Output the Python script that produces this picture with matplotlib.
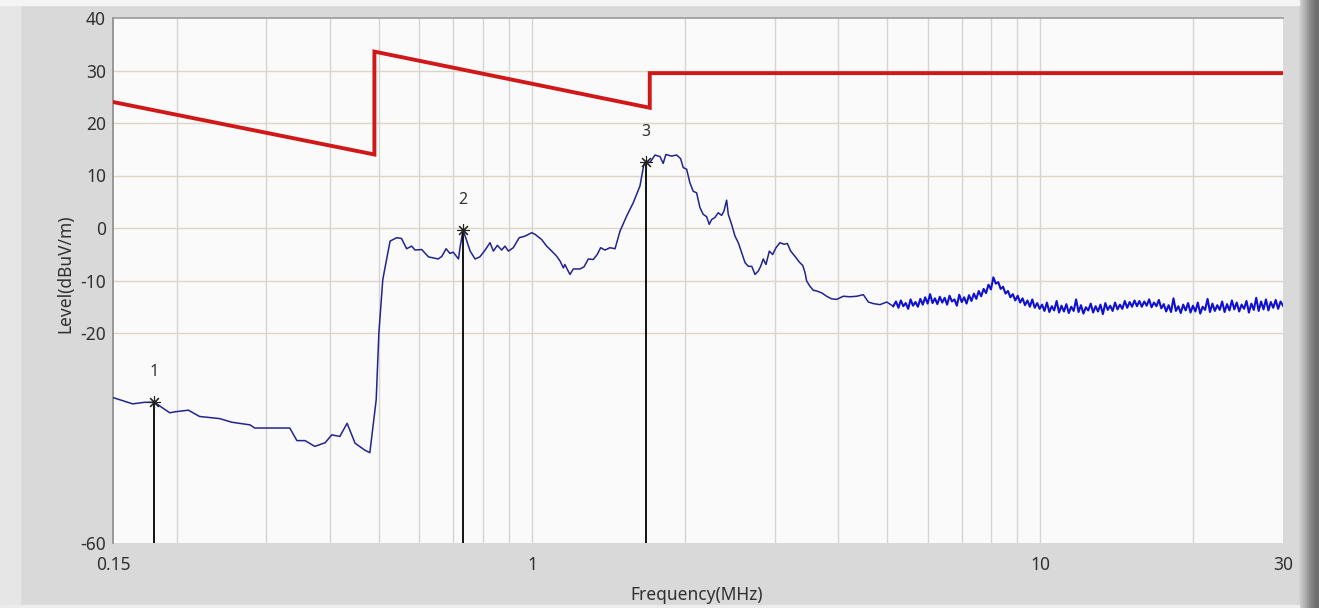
import numpy as np
import matplotlib
matplotlib.use("Agg")
import matplotlib.pyplot as plt
from matplotlib.patches import Rectangle

plt.rcParams['font.family'] = ['Noto Sans', 'DejaVu Sans']

# ---------------- data ----------------
limit_freq = [0.15, 0.49, 0.49, 1.705, 1.705, 30.0]
limit_level = [24.0, 14.0, 33.6, 22.9, 29.5, 29.5]

trace_freq = [0.150, 0.164, 0.173, 0.181, 0.186, 0.194, 0.199, 0.211, 0.222, 0.243,
              0.257, 0.279, 0.285, 0.334, 0.345, 0.358, 0.374, 0.392, 0.404, 0.419,
              0.433, 0.449, 0.469, 0.480, 0.494, 0.500, 0.509, 0.526, 0.542, 0.554,
              0.567, 0.580, 0.589, 0.607, 0.626, 0.654, 0.665, 0.678, 0.690, 0.700,
              0.717, 0.722, 0.732, 0.739, 0.756, 0.773, 0.790, 0.809, 0.827, 0.840,
              0.855, 0.872, 0.885, 0.899, 0.919, 0.944, 0.969, 0.999, 1.014, 1.045,
              1.069, 1.094, 1.119, 1.136, 1.153, 1.161, 1.174, 1.188, 1.206, 1.243,
              1.266, 1.291, 1.320, 1.344, 1.365, 1.392, 1.424, 1.457, 1.490, 1.536,
              1.582, 1.631, 1.660, 1.675, 1.707, 1.746, 1.786, 1.812, 1.834, 1.882,
              1.926, 1.961, 1.984, 2.015, 2.045, 2.076, 2.108, 2.140, 2.172, 2.206,
              2.232, 2.256, 2.290, 2.325, 2.361, 2.385, 2.415, 2.433, 2.470, 2.508,
              2.546, 2.585, 2.625, 2.664, 2.706, 2.746, 2.787, 2.817, 2.851, 2.886,
              2.930, 2.975, 3.020, 3.075, 3.132, 3.179, 3.228, 3.291, 3.357, 3.409,
              3.444, 3.470, 3.522, 3.575, 3.631, 3.714, 3.798, 3.886, 3.975, 4.096,
              4.222, 4.352, 4.485, 4.588, 4.693, 4.837, 4.986, 5.136]
trace_level = [-32.3, -33.5, -33.2, -33.2, -34.0, -35.2, -35.0, -34.7, -35.9, -36.3,
               -37.0, -37.5, -38.1, -38.1, -40.5, -40.5, -41.6, -40.9, -39.4, -39.7,
               -37.2, -41.0, -42.3, -42.8, -32.7, -20.0, -9.8, -2.5, -1.85, -2.0,
               -3.95, -3.45, -4.2, -4.1, -5.5, -5.9, -5.4, -3.95, -4.85, -4.6,
               -5.9, -3.75, -0.4, -1.55, -4.4, -5.9, -5.5, -4.2, -2.8, -4.4,
               -3.3, -4.2, -3.45, -4.4, -3.75, -1.85, -1.55, -0.9, -1.2, -2.2,
               -3.45, -4.4, -5.4, -6.3, -7.6, -6.95, -7.9, -8.85, -7.8, -7.8,
               -7.4, -5.9, -6.0, -5.05, -3.75, -4.2, -3.75, -3.95, -0.6, 2.3,
               4.8, 8.0, 12.1, 12.6, 12.5, 13.9, 13.6, 12.3, 14.0, 13.7,
               13.9, 13.2, 11.5, 11.2, 8.6, 7.0, 6.7, 3.9, 2.6, 2.15,
               0.7, 1.6, 2.0, 2.9, 2.4, 3.2, 5.3, 2.6, 0.7, -1.55,
               -2.8, -4.7, -6.6, -7.3, -7.3, -8.85, -8.2, -7.3, -5.9, -6.95,
               -4.4, -5.05, -3.75, -2.8, -3.1, -2.95, -4.4, -5.4, -6.5, -7.15,
               -8.5, -10.1, -11.1, -11.85, -12.0, -12.35, -13.0, -13.5, -13.6, -13.0,
               -13.1, -13.0, -12.7, -14.1, -14.4, -14.6, -14.1, -14.9]

# dense sweep segment (5.2 - 30 MHz), levels
tail_start, tail_stop = 5.2, 30.0
tail_level = [-14.0, -15.2, -13.8, -14.9, -14.3, -15.4, -13.6, -14.8, -14.1, -15.0,
              -13.5, -14.6, -13.2, -14.4, -12.6, -14.3, -13.4, -14.5, -13.1, -14.2,
              -13.3, -14.6, -12.9, -14.0, -13.6, -14.8, -12.7, -14.1, -13.2, -14.4,
              -12.8, -13.9, -12.5, -13.5, -12.0, -13.0, -11.6, -12.4, -10.8, -11.7,
              -9.4, -10.6, -10.3, -11.6, -11.2, -12.5, -12.0, -13.2, -12.6, -13.8,
              -12.9, -14.2, -13.4, -14.7, -13.8, -15.0, -13.6, -15.2, -14.3, -15.4,
              -14.6, -15.8, -14.2, -16.0, -14.9, -15.7, -13.9, -16.1, -14.8, -15.9,
              -14.5, -16.2, -15.0, -15.8, -13.6, -16.0, -14.7, -16.3, -15.1, -15.7,
              -14.4, -16.1, -14.9, -15.9, -14.6, -16.4, -14.3, -15.6, -14.8, -15.8,
              -14.2, -15.5, -14.6, -15.4, -13.9, -15.2, -14.1, -15.0, -13.8, -14.9,
              -13.9, -15.0, -14.0, -14.8, -13.6, -15.1, -14.2, -14.9, -13.7, -15.3,
              -14.5, -15.9, -14.7, -16.0, -13.4, -15.8, -14.9, -16.2, -14.6, -15.7,
              -14.3, -16.1, -14.8, -15.9, -14.2, -16.3, -15.0, -15.6, -13.5, -16.0,
              -14.4, -15.8, -14.7, -15.6, -14.0, -16.0, -14.5, -15.7, -13.8, -15.5,
              -14.2, -15.9, -14.6, -15.4, -13.9, -16.1, -14.4, -15.6, -13.3, -15.8,
              -14.0, -15.5, -13.6, -15.7, -14.1, -15.2, -13.7, -15.4, -14.0, -14.8]

marker_ids = ["1", "2", "3"]
marker_freq = [0.181, 0.732, 1.675]
marker_level = [-33.2, -0.4, 12.6]

x_ticks = [0.15, 1, 10, 30]
x_ticklabels = ["0.15", "1", "10", "30"]
y_ticks = [-60, -20, -10, 0, 10, 20, 30, 40]
y_ticklabels = ["-60", "-20", "-10", "0", "10", "20", "30", "40"]
x_minor_grid = [0.2, 0.3, 0.4, 0.5, 0.6, 0.7, 0.8, 0.9, 1, 2, 3, 4, 5, 6, 7, 8, 9, 10, 20]

# ---------------- figure ----------------
W, H = 1319, 608
fig = plt.figure(figsize=(W / 100, H / 100), dpi=100)
fig.patch.set_facecolor('#d9d9d9')

# frame decoration (right dark bevel, light left strip, top highlight)
bevel = ['#d0d0d0', '#c4c4c4', '#b8b8b8', '#aaaaaa', '#9c9c9c', '#8e8e8e',
         '#828282', '#787878', '#707070', '#6c6c6c']
for k, c in enumerate(bevel):
    fig.patches.append(Rectangle(((1299 + 2 * k) / W, 0), 2 / W, 1,
                                 transform=fig.transFigure, color=c, zorder=0))
fig.patches.append(Rectangle((0, 0), 20 / W, 1, transform=fig.transFigure,
                             color='#e6e6e6', zorder=0))
fig.patches.append(Rectangle((0, 1 - 5 / H), 1299 / W, 5 / H, transform=fig.transFigure,
                             color='#f4f4f4', zorder=0))
fig.patches.append(Rectangle((0, 0), 1299 / W, 3 / H, transform=fig.transFigure,
                             color='#ececec', zorder=0))

ax = fig.add_axes([113 / W, 1 - 543 / H, (1283 - 113) / W, (543 - 18) / H])
ax.set_facecolor('#fafafa')
ax.set_xscale('log')
ax.set_xlim(0.15, 30)
ax.set_ylim(-60, 40)

# grid
for xv in x_minor_grid:
    ax.axvline(xv, color='#d4d4d4', lw=1.0, zorder=1)
for yv in y_ticks[1:-1]:
    ax.axhline(yv, color='#ddd6c4', lw=1.0, zorder=1)

# traces
ax.plot(limit_freq, limit_level, color='#d01818', lw=2.8, zorder=4,
        solid_joinstyle='miter')
ax.plot(trace_freq, trace_level, color='#23238f', lw=1.1, zorder=3)
tail_freq = np.geomspace(tail_start, tail_stop, len(tail_level))
ax.plot(np.concatenate([[trace_freq[-1]], tail_freq]),
        np.concatenate([[trace_level[-1]], tail_level]),
        color='#1010d0', lw=1.5, zorder=3)

# markers
for mid, mf, ml in zip(marker_ids, marker_freq, marker_level):
    ax.plot([mf, mf], [ml, -60], color='black', lw=1.3, zorder=5)
    ax.plot([mf], [ml], marker=(8, 2, 0), ms=9, mew=0.8, color='#222222', zorder=6)
    ax.annotate(mid, (mf, ml), textcoords='offset points', xytext=(0, 16),
                ha='center', va='bottom', fontsize=11.5, color='#333333')

# axes styling
ax.set_xticks(x_ticks)
ax.set_xticklabels(x_ticklabels)
ax.xaxis.set_minor_locator(matplotlib.ticker.NullLocator())
ax.set_yticks(y_ticks)
ax.set_yticklabels(y_ticklabels)
ax.tick_params(axis='both', length=0, labelsize=12.5, colors='#303030')
ax.tick_params(axis='x', pad=9)
ax.tick_params(axis='y', pad=5)
for s in ['right', 'bottom']:
    ax.spines[s].set_visible(False)
ax.spines['top'].set_color('#9a9a9a')
ax.spines['left'].set_color('#8a8a8a')
ax.spines['top'].set_linewidth(1.2)
ax.spines['left'].set_linewidth(1.2)

fig.text(697 / W, 1 - 595 / H, 'Frequency(MHz)', ha='center', va='center',
         fontsize=12.5, color='#303030')
fig.text(65 / W, 1 - 274 / H, 'Level(dBuV/m)', ha='center', va='center',
         rotation=90, fontsize=12.5, color='#303030')

fig.savefig('out.png', dpi=100, facecolor=fig.get_facecolor())
